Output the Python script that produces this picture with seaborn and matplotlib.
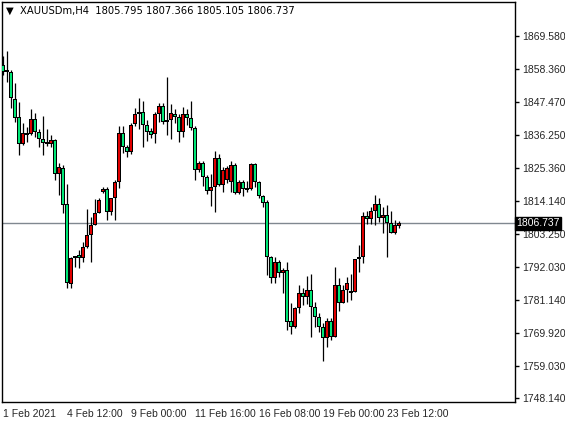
import matplotlib
matplotlib.use("Agg")
import matplotlib.pyplot as plt
import seaborn as sns
import pandas as pd

# OHLC for 100 H4 candles of XAUUSDm
opens = [1859.9, 1857.5, 1857.5, 1848.4, 1842.4, 1833.3, 1837.0, 1836.7, 1841.7, 1837.4,
         1835.0, 1834.0, 1833.3, 1834.7, 1823.3, 1825.3, 1813.2, 1786.4, 1795.8, 1796.1,
         1795.1, 1798.8, 1802.8, 1806.2, 1810.2, 1817.2, 1818.2, 1810.5, 1815.2, 1820.6,
         1837.0, 1832.3, 1830.7, 1840.1, 1844.1, 1844.1, 1839.7, 1837.7, 1836.7, 1843.4,
         1846.1, 1840.7, 1841.4, 1843.4, 1842.4, 1837.4, 1843.4, 1842.1, 1838.7, 1824.6,
         1827.0, 1822.3, 1817.6, 1818.9, 1828.7, 1819.6, 1821.3, 1820.6, 1826.3, 1816.9,
         1820.6, 1818.2, 1818.2, 1826.6, 1820.6, 1815.9, 1813.9, 1795.4, 1788.4, 1793.8,
         1790.1, 1791.1, 1773.9, 1771.9, 1778.3, 1783.4, 1782.0, 1784.4, 1778.7, 1775.3,
         1771.9, 1768.3, 1773.9, 1768.6, 1786.0, 1780.0, 1784.4, 1783.4, 1783.7, 1794.8,
         1795.4, 1809.2, 1808.2, 1810.9, 1813.2, 1808.5, 1809.5, 1806.8, 1803.5, 1805.795]
highs = [1862.9, 1864.5, 1858.2, 1853.8, 1847.4, 1840.4, 1839.0, 1845.1, 1843.7, 1838.4,
         1842.7, 1838.4, 1836.4, 1835.0, 1827.0, 1826.3, 1819.9, 1795.4, 1795.8, 1797.8,
         1800.5, 1811.5, 1808.9, 1814.9, 1815.2, 1818.9, 1818.9, 1815.2, 1821.3, 1839.4,
         1839.4, 1833.0, 1840.4, 1845.4, 1848.8, 1847.8, 1841.4, 1838.7, 1844.1, 1847.1,
         1847.1, 1855.8, 1846.8, 1845.1, 1843.4, 1845.8, 1845.1, 1847.8, 1839.4, 1827.6,
         1827.6, 1823.0, 1823.3, 1831.0, 1830.0, 1825.6, 1826.0, 1827.6, 1827.0, 1821.3,
         1821.3, 1820.9, 1827.0, 1827.0, 1820.9, 1816.2, 1814.6, 1795.8, 1795.4, 1794.4,
         1791.8, 1793.8, 1780.0, 1778.7, 1786.0, 1785.0, 1789.1, 1789.7, 1780.3, 1776.6,
         1773.3, 1775.0, 1775.0, 1792.1, 1788.4, 1786.0, 1788.7, 1789.7, 1794.8, 1799.5,
         1810.5, 1810.9, 1812.2, 1816.2, 1815.2, 1812.2, 1812.9, 1810.9, 1807.8, 1807.366]
lows = [1856.5, 1854.2, 1845.4, 1840.7, 1829.7, 1833.0, 1834.0, 1836.4, 1835.7, 1832.3,
        1829.7, 1832.7, 1832.3, 1821.3, 1816.2, 1810.2, 1785.0, 1785.0, 1792.1, 1791.8,
        1793.8, 1798.5, 1793.8, 1806.2, 1810.2, 1816.9, 1807.8, 1809.5, 1807.8, 1818.6,
        1830.3, 1829.0, 1830.0, 1839.4, 1838.4, 1832.3, 1834.4, 1835.4, 1833.7, 1840.7,
        1840.1, 1836.4, 1835.0, 1840.4, 1834.0, 1835.7, 1839.7, 1838.0, 1821.3, 1823.9,
        1819.3, 1816.6, 1812.5, 1810.5, 1819.3, 1817.2, 1820.3, 1817.2, 1816.6, 1816.6,
        1815.9, 1817.2, 1817.9, 1818.9, 1815.2, 1812.2, 1789.4, 1786.7, 1786.7, 1788.7,
        1783.4, 1770.9, 1769.6, 1771.6, 1776.6, 1779.3, 1779.7, 1768.6, 1771.9, 1770.3,
        1760.6, 1765.2, 1767.6, 1768.6, 1777.3, 1780.0, 1780.3, 1781.0, 1783.7, 1790.4,
        1793.4, 1806.5, 1806.5, 1806.2, 1807.2, 1803.5, 1795.4, 1803.5, 1803.2, 1805.105]
closes = [1857.5, 1858.2, 1848.8, 1842.1, 1833.3, 1837.0, 1836.4, 1841.7, 1837.4, 1835.0,
          1833.7, 1833.3, 1834.7, 1823.3, 1825.6, 1812.9, 1786.7, 1795.1, 1795.1, 1795.1,
          1798.8, 1802.8, 1806.2, 1810.2, 1814.6, 1818.2, 1810.5, 1815.2, 1820.6, 1837.0,
          1832.3, 1830.7, 1839.7, 1843.4, 1843.4, 1839.7, 1837.4, 1836.4, 1843.4, 1846.1,
          1840.7, 1841.4, 1843.7, 1842.4, 1837.4, 1843.4, 1842.1, 1838.7, 1824.6, 1827.0,
          1822.3, 1817.6, 1818.9, 1828.7, 1819.6, 1824.6, 1825.3, 1826.3, 1816.9, 1820.6,
          1818.2, 1817.9, 1826.6, 1820.6, 1815.9, 1813.6, 1795.4, 1788.4, 1793.8, 1790.1,
          1791.1, 1773.6, 1771.9, 1778.3, 1783.4, 1782.0, 1784.4, 1778.7, 1775.3, 1771.9,
          1768.3, 1773.9, 1768.6, 1786.0, 1780.0, 1784.4, 1786.7, 1784.0, 1794.8, 1795.4,
          1809.2, 1808.2, 1810.9, 1813.2, 1808.5, 1809.5, 1806.8, 1803.5, 1806.2, 1806.737]

price_ticks = [1869.580, 1858.360, 1847.470, 1836.250, 1825.360, 1814.140,
               1803.250, 1792.030, 1781.140, 1769.920, 1759.030, 1748.140]
date_labels = ["1 Feb 2021", "4 Feb 12:00", "9 Feb 00:00", "11 Feb 16:00",
               "16 Feb 08:00", "19 Feb 00:00", "23 Feb 12:00"]
date_pos = [0, 16, 32, 48, 64, 80, 96]
last_price = 1806.737

df = pd.DataFrame({"open": opens, "high": highs, "low": lows, "close": closes})
df["i"] = range(len(df))

sns.set_style("white")
plt.rcParams["font.family"] = ["Liberation Sans", "DejaVu Sans"]

fig = plt.figure(figsize=(5.65, 4.22), dpi=100)
ax = fig.add_axes([2 / 565, 20 / 422, 513 / 565, 400 / 422])

up_col = "#e00000"
down_col = "#00e676"
inset = 0.33  # about one pixel in price units
for _, r in df.iterrows():
    ax.vlines(r["i"], r["low"], r["high"], color="black", lw=0.9, zorder=2)
    lo, hi = min(r["open"], r["close"]), max(r["open"], r["close"])
    col = up_col if r["close"] >= r["open"] else down_col
    ax.bar(r["i"], max(hi - lo, 0.6), bottom=lo, width=0.8, color="black",
           linewidth=0, zorder=3)
    if hi - lo > 2 * inset:
        ax.bar(r["i"], hi - lo - 2 * inset, bottom=lo + inset, width=0.42,
               color=col, linewidth=0, zorder=4)

ax.axhline(last_price, color="#808890", lw=1, zorder=1)

ax.set_xlim(-0.25, 128)
ax.set_ylim(1746.79, 1880.99)
for s in ax.spines.values():
    s.set_color("black")
    s.set_linewidth(1)

ax.yaxis.tick_right()
ax.set_yticks(price_ticks)
ax.set_yticklabels([f"{p:.3f}" for p in price_ticks])
ax.set_xticks(date_pos)
ax.set_xticklabels(date_labels, ha="left")
ax.tick_params(axis="both", direction="out", length=3, width=1, color="black",
               labelsize=7.5, pad=2)

ax.text(1.003, last_price, f"{last_price:.3f}", transform=ax.get_yaxis_transform(),
        ha="left", va="center", fontsize=7.5, color="white",
        bbox=dict(boxstyle="square,pad=0.15", fc="black", ec="black"))

ax.text(0.008, 0.99, "\u25bc  XAUUSDm,H4  1805.795 1807.366 1805.105 1806.737",
        transform=ax.transAxes, ha="left", va="top", fontsize=7.2, color="black",
        family=["DejaVu Sans"])

fig.savefig("out.png", dpi=100, facecolor="white")
